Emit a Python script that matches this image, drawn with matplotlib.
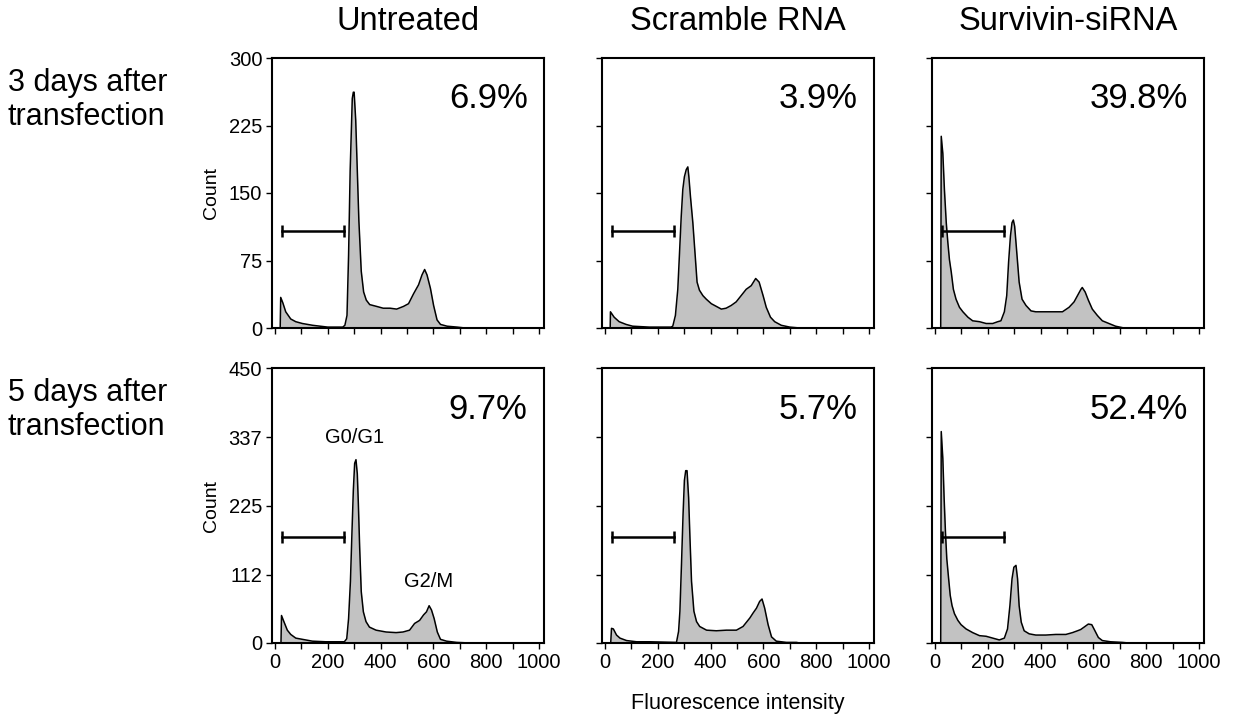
import matplotlib
matplotlib.use("Agg")
import matplotlib.pyplot as plt

plt.rcParams["font.family"] = ["Liberation Sans", "DejaVu Sans"]

col_titles = ["Untreated", "Scramble RNA", "Survivin-siRNA"]
row_labels = ["3 days after\ntransfection", "5 days after\ntransfection"]
row_ymax = [300, 450]
row_yticks = [[0, 75, 150, 225, 300], [0, 112, 225, 337, 450]]
percents = [["6.9%", "3.9%", "39.8%"], ["9.7%", "5.7%", "52.4%"]]
gate_x = [25, 262]
gate_y = [108, 174]

# histograms: fluorescence channel -> count
untreated_d3_x = [20, 22, 30, 41, 60, 79, 104, 143, 200, 257, 265, 273, 279, 285, 293, 297, 300, 306, 312, 318,
                  327, 336, 346, 359, 385, 410, 436, 461, 487, 506, 525, 544, 557, 567, 576, 589, 601, 614, 627, 652,
                  690, 720]
untreated_d3_y = [0, 34, 28, 18, 10, 7, 5, 3, 1, 1, 3, 14, 81, 175, 255, 262, 262, 231, 175, 119,
                  63, 40, 31, 26, 24, 22, 22, 21, 24, 27, 38, 48, 59, 65, 59, 44, 25, 9, 4, 2,
                  1, 0]

scramble_d3_x = [20, 21, 35, 54, 80, 105, 168, 250, 257, 267, 276, 282, 289, 295, 301, 308, 314, 318, 324, 333,
                 342, 349, 358, 371, 384, 403, 422, 441, 459, 478, 497, 516, 535, 554, 571, 584, 599, 611, 627, 643,
                 668, 700, 738]
scramble_d3_y = [0, 18, 12, 7, 4, 2, 1, 1, 2, 14, 43, 80, 124, 154, 168, 176, 179, 168, 146, 117,
                 80, 51, 42, 36, 32, 27, 24, 21, 22, 25, 29, 36, 43, 47, 55, 51, 36, 23, 12, 7,
                 3, 1, 0]

survivin_d3_x = [22, 24, 30, 36, 43, 49, 55, 62, 70, 80, 93, 106, 125, 143, 169, 194, 219, 238, 250, 263,
                 272, 279, 286, 292, 297, 302, 307, 313, 319, 330, 345, 364, 382, 408, 433, 458, 483, 508, 527, 540,
                 553, 558, 569, 581, 596, 615, 634, 659, 684, 716]
survivin_d3_y = [0, 213, 194, 154, 117, 95, 76, 62, 43, 32, 23, 18, 12, 8, 7, 5, 5, 7, 8, 18,
                 36, 73, 102, 117, 120, 113, 95, 73, 51, 32, 25, 19, 18, 18, 18, 18, 18, 23, 29, 36,
                 43, 45, 40, 31, 21, 14, 8, 5, 2, 0]

untreated_d5_x = [23, 25, 34, 47, 60, 79, 104, 142, 193, 263, 272, 279, 286, 292, 297, 302, 307, 312, 316, 321,
                  327, 335, 345, 358, 383, 421, 459, 485, 510, 529, 548, 563, 574, 584, 593, 603, 615, 627, 650, 688,
                  739]
untreated_d5_y = [0, 45, 35, 21, 14, 8, 6, 3, 2, 2, 7, 40, 101, 184, 250, 294, 300, 277, 228, 156,
                  84, 51, 35, 26, 21, 18, 17, 18, 21, 32, 37, 46, 51, 61, 54, 40, 18, 6, 3, 1,
                  0]

scramble_d5_x = [22, 25, 32, 44, 57, 82, 120, 170, 271, 279, 284, 290, 296, 301, 306, 311, 317, 322, 328, 337,
                 347, 359, 385, 422, 460, 498, 523, 549, 561, 574, 586, 595, 605, 618, 631, 649, 687, 725, 738]
scramble_d5_y = [0, 24, 23, 13, 8, 4, 2, 2, 1, 19, 52, 129, 211, 266, 282, 282, 238, 173, 101, 52,
                 35, 27, 21, 20, 21, 21, 27, 41, 49, 57, 68, 72, 57, 30, 10, 3, 1, 1, 0]

survivin_d5_x = [22, 24, 30, 35, 40, 45, 52, 58, 65, 74, 87, 99, 118, 143, 169, 194, 219, 244, 263, 275,
                 284, 292, 299, 307, 313, 319, 327, 338, 357, 382, 420, 458, 496, 521, 540, 552, 565, 581, 594, 606,
                 619, 634, 665, 709, 734]
survivin_d5_y = [0, 346, 302, 236, 181, 138, 105, 78, 61, 48, 37, 30, 23, 17, 12, 11, 8, 5, 8, 23,
                 61, 105, 124, 127, 105, 61, 34, 20, 15, 13, 13, 14, 14, 17, 20, 22, 26, 31, 30, 20,
                 9, 4, 2, 1, 0]

hists = [
    [(untreated_d3_x, untreated_d3_y), (scramble_d3_x, scramble_d3_y), (survivin_d3_x, survivin_d3_y)],
    [(untreated_d5_x, untreated_d5_y), (scramble_d5_x, scramble_d5_y), (survivin_d5_x, survivin_d5_y)],
]

W, H = 1234, 718
fig = plt.figure(figsize=(W / 100, H / 100), dpi=100)

col_left = [272, 602, 932]
row_box = [(58, 328), (368, 643)]  # top, bottom in pixels

for r in range(2):
    top, bot = row_box[r]
    for c in range(3):
        ax = fig.add_axes([col_left[c] / W, (H - bot) / H, 272 / W, (bot - top) / H])
        x, y = hists[r][c]
        ax.fill_between(x, y, color="#c2c2c2", lw=0)
        ax.plot(x, y, color="black", lw=1.1)
        ax.plot(gate_x, [gate_y[r]] * 2, color="black", lw=1.8,
                marker="|", markersize=9, markeredgewidth=1.8)
        ax.set_xlim(-11, 1019)
        ax.set_ylim(0, row_ymax[r])
        ax.set_xticks(range(0, 1001, 100))
        ax.set_yticks(row_yticks[r])
        ax.tick_params(direction="out", length=4, width=1, labelsize=14.5, pad=3)
        for s in ax.spines.values():
            s.set_linewidth(1.5)
        if r == 1:
            ax.set_xticklabels([str(v) if v % 200 == 0 else "" for v in range(0, 1001, 100)])
        else:
            ax.set_xticklabels([])
        if c == 0:
            ax.set_ylabel("Count", fontsize=14, labelpad=6)
        else:
            ax.set_yticklabels([])
        ax.text(0.94, 0.85, percents[r][c], transform=ax.transAxes,
                ha="right", va="center", fontsize=25)
        if r == 1 and c == 0:
            ax.text(300, 337, "G0/G1", ha="center", va="center", fontsize=14.5)
            ax.text(580, 100, "G2/M", ha="center", va="center", fontsize=14.5)

for c in range(3):
    fig.text((col_left[c] + 136) / W, 1 - 22 / H, col_titles[c],
             ha="center", va="center", fontsize=23.5)

for r in range(2):
    fig.text(8 / W, 1 - (row_box[r][0] + 42) / H, row_labels[r],
             ha="left", va="center", fontsize=22, linespacing=1.2)

fig.text(738 / W, 1 - 703 / H, "Fluorescence intensity", ha="center", va="center", fontsize=15.5)

fig.savefig("out.png", dpi=100)
